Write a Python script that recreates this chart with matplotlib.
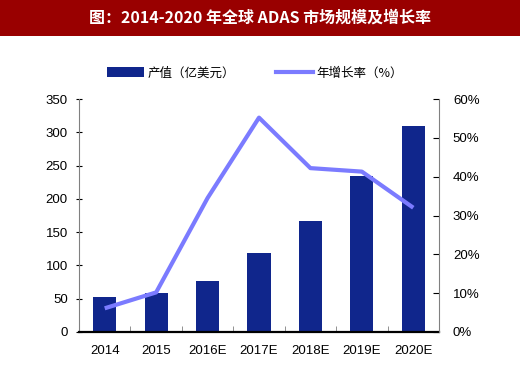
import matplotlib.pyplot as plt
from matplotlib.patches import Rectangle
from matplotlib.lines import Line2D
import numpy as np

plt.rcParams['font.family'] = ['Liberation Sans', 'Noto Sans CJK SC']

years = ['2014', '2015', '2016E', '2017E', '2018E', '2019E', '2020E']
output_value = [53, 58, 77, 118, 166, 234, 309]   # 产值（亿美元）
growth_rate = [6.1, 10.2, 34.5, 55.2, 42.2, 41.3, 32.0]  # 年增长率（%）

BAR_COLOR = '#10268c'
LINE_COLOR = '#7b7bff'
SPINE_GREY = '#808080'

fig = plt.figure(figsize=(5.2, 3.81), dpi=100)

# title banner
fig.patches.append(Rectangle((0, 1 - 36 / 381), 1, 36 / 381, transform=fig.transFigure,
                             facecolor='#990000', edgecolor='none', zorder=0))
fig.text(0.5, 1 - 18 / 381, '图：2014-2020 年全球 ADAS 市场规模及增长率', color='white',
         fontsize=11.5, fontweight='bold', ha='center', va='center',
         family=['Noto Sans CJK SC', 'DejaVu Sans'])

# axes box: left 79, right 439, top 99, bottom 332 (pixels)
ax = fig.add_axes([79 / 520, 1 - 332 / 381, 360 / 520, 233 / 381])
x = np.arange(len(years))
ax.bar(x, output_value, width=0.45, color=BAR_COLOR, zorder=2)
ax.set_xlim(-0.5, len(years) - 0.5)
ax.set_ylim(0, 350)
ax.set_yticks(range(0, 351, 50))
ax.set_xticks(x)
ax.set_xticklabels(years)
ax.set_xticks(np.arange(0.5, len(years) - 1, 1), minor=True)
ax.tick_params(axis='x', which='major', length=0, pad=9, labelsize=9.5)
ax.tick_params(axis='x', which='minor', length=4, direction='in', color=SPINE_GREY)
ax.tick_params(axis='y', length=4, direction='inout', color='black', labelsize=9.5, pad=6)
ax.spines['top'].set_visible(False)
ax.spines['right'].set_visible(False)
ax.spines['left'].set_color(SPINE_GREY)
ax.spines['bottom'].set_linewidth(1.6)
ax.spines['bottom'].set_zorder(5)

ax2 = ax.twinx()
ax2.plot(x, growth_rate, color=LINE_COLOR, linewidth=3, solid_capstyle='butt', zorder=3)
ax2.set_ylim(0, 60)
ax2.set_yticks(range(0, 61, 10))
ax2.set_yticklabels([f'{v}%' for v in range(0, 61, 10)])
ax2.tick_params(axis='y', length=4, direction='in', color='black', labelsize=9.5, pad=10)
ax2.spines['top'].set_visible(False)
ax2.spines['left'].set_visible(False)
ax2.spines['bottom'].set_visible(False)
ax2.spines['right'].set_color(SPINE_GREY)

# legend
handles = [Rectangle((0, 0), 1, 1, facecolor=BAR_COLOR),
           Line2D([], [], color=LINE_COLOR, linewidth=3)]
fig.legend(handles, ['产值（亿美元）', '年增长率（%）'], loc='center',
           bbox_to_anchor=(255 / 520, 1 - 73 / 381), ncol=2, frameon=False,
           prop={'family': ['Noto Sans CJK SC', 'DejaVu Sans'], 'size': 9},
           handlelength=3.0, handleheight=0.9, columnspacing=3.2, handletextpad=0.3)

fig.savefig('out.png', dpi=100)
